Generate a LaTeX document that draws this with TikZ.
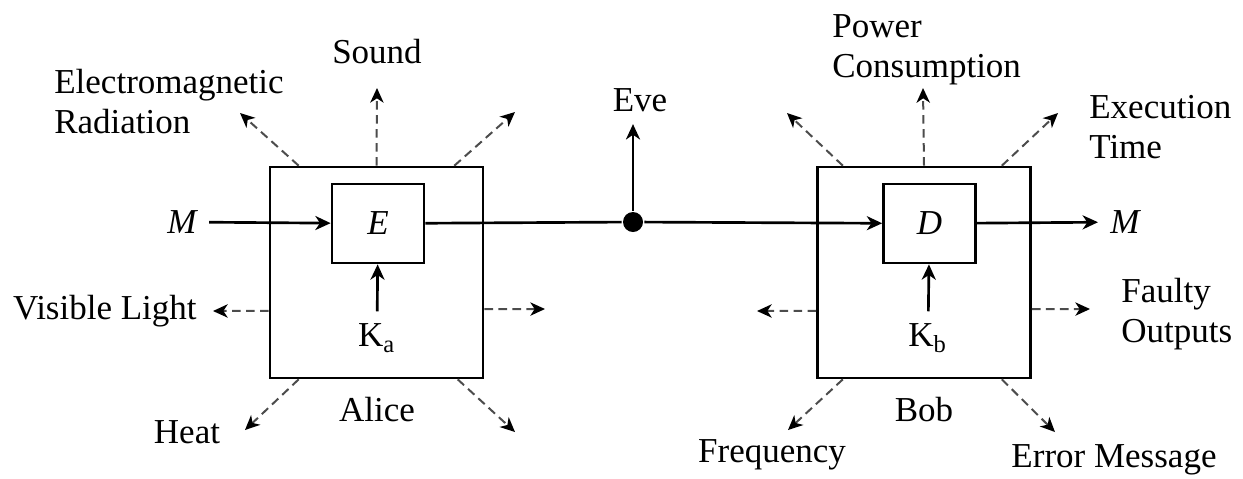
\documentclass[tikz,border=0pt]{standalone}
\usepackage{fontspec}
\setmainfont{Liberation Serif}
\usetikzlibrary{arrows.meta}

\begin{document}
\begin{tikzpicture}[->,>={Stealth[length=4.6pt,width=4.2pt,inset=1.4pt]},thick,x=0.3pt,y=-0.3pt,
    font=\fontsize{10.5}{12}\selectfont,
    device/.style={rectangle,draw,minimum width=63.9pt,minimum height=63.3pt},
    cipher/.style={rectangle,draw,minimum width=27.6pt,minimum height=23.7pt,font=\fontsize{10.5}{12}\selectfont\itshape},
    sidetext/.style={inner sep=0pt,align=left},
    leak/.style={semithick,draw=black!70,dash pattern=on 2.6pt off 1.6pt,
        -{Stealth[length=4.4pt,width=4pt,inset=1.3pt,black]}}]
    \useasboundingbox (0,0) rectangle (1243,478);

    % the two devices
    \node[device] (alice) at (376.5,272.5) {};
    \node[cipher] (e) at (378,223.5) {E};
    \node[device] (bob) at (924,272.5) {};
    \node[cipher] (d) at (929.5,223.5) {D};

    \node (m) at (182,222) {\itshape M};
    \node (mout) at (1125,222) {\itshape M};
    \node (ka) at (377,338) {K\textsubscript{a}};
    \node (kb) at (928,338) {K\textsubscript{b}};
    \node[circle,fill,inner sep=0pt,minimum size=6pt] (tap) at (633,222) {};
    \node (eve) at (640,100) {Eve};
    \node (alicelbl) at (377,410) {Alice};
    \node (boblbl) at (924,410) {Bob};

    % side channels
    \node[sidetext,anchor=west] (emr) at (53,102) {Electromagnetic\\Radiation};
    \node[sidetext] (sound) at (377,52) {Sound};
    \node[sidetext,anchor=east] (light) at (198,311) {Visible Light};
    \node[sidetext] (heat) at (187,432) {Heat};
    \node[sidetext,anchor=west] (power) at (831,50) {Power\\Consumption};
    \node[sidetext,anchor=west] (time) at (1088,127) {Execution\\Time};
    \node[sidetext,anchor=west] (faulty) at (1120,314) {Faulty\\Outputs};
    \node[sidetext] (freq) at (772,455) {Frequency};
    \node[sidetext] (errmsg) at (1114,460) {Error Message};

    \coordinate (a-nw) at (240,113);
    \coordinate (a-n) at (377,88);
    \coordinate (a-ne) at (515,112);
    \coordinate (a-w) at (213,311);
    \coordinate (a-e) at (545,309);
    \coordinate (a-sw) at (245,430);
    \coordinate (a-se) at (515,432);
    \coordinate (b-nw) at (787,113);
    \coordinate (b-n) at (923,88);
    \coordinate (b-ne) at (1058,113);
    \coordinate (b-w) at (757,311);
    \coordinate (b-e) at (1090,309);
    \coordinate (b-sw) at (788,430);
    \coordinate (b-se) at (1055,432);

    \path
        (m) edge (e)
        (ka) edge (e)
        (tap) edge (d)
        (d) edge (mout)
        (kb) edge (d)
    ;
    \draw[-] (e) -- (tap);
    \draw (tap) -- (tap |- eve.south);

    \draw[leak] ([xshift=9pt]alice.north west) -- (a-nw);
    \draw[leak] (alice.north) -- (a-n);
    \draw[leak] ([xshift=-9pt]alice.north east) -- (a-ne);
    \draw[leak] ([yshift=-11.5pt]alice.west) -- (a-w);
    \draw[leak] ([yshift=-11pt]alice.east) -- (a-e);
    \draw[leak] ([xshift=9pt]alice.south west) -- (a-sw);
    \draw[leak] ([xshift=-8pt]alice.south east) -- (a-se);

    \draw[leak] ([xshift=8pt]bob.north west) -- (b-nw);
    \draw[leak] (bob.north) -- (b-n);
    \draw[leak] ([xshift=-9pt]bob.north east) -- (b-ne);
    \draw[leak] ([yshift=-11.5pt]bob.west) -- (b-w);
    \draw[leak] ([yshift=-11pt]bob.east) -- (b-e);
    \draw[leak] ([xshift=8pt]bob.south west) -- (b-sw);
    \draw[leak] ([xshift=-9pt]bob.south east) -- (b-se);
\end{tikzpicture}
\end{document}
